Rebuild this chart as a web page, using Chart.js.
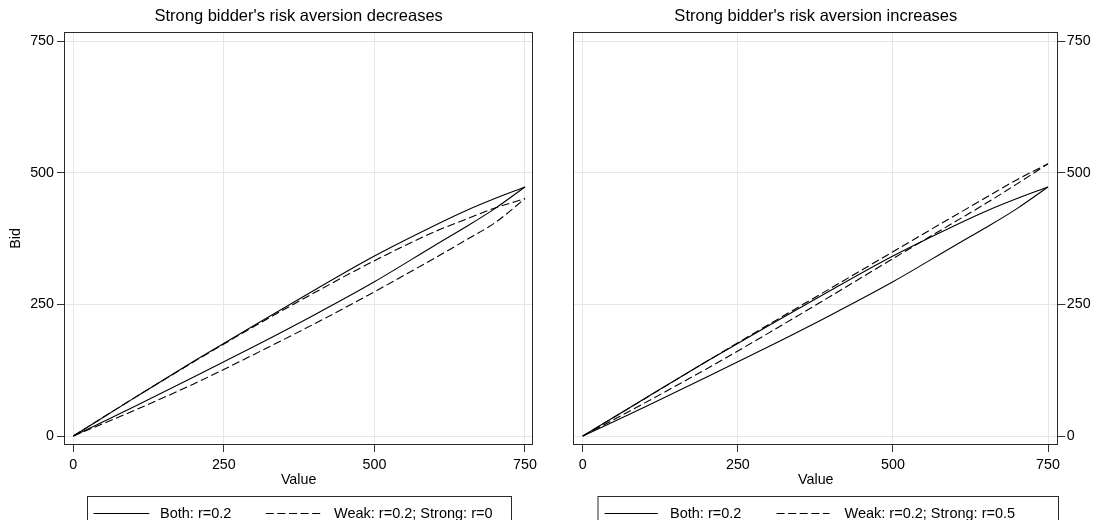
<!DOCTYPE html>
<html><head><meta charset="utf-8">
<script src="https://cdn.jsdelivr.net/npm/chart.js@4.4.1/dist/chart.umd.min.js"></script>
<style>
html,body{margin:0;padding:0;background:#fff;}
#wrap{position:relative;width:1094px;height:520px;overflow:hidden;font-family:"Liberation Sans",Arial,sans-serif;background:#fff;}
.cv{position:absolute;top:0;width:547px;height:520px;}
.lt{position:absolute;font-size:14.5px;line-height:1;color:#000;white-space:nowrap;font-family:"Liberation Sans",Arial,sans-serif;}
#ov{position:absolute;left:0;top:0;pointer-events:none;}
</style></head>
<body>
<div id="wrap">
  <div class="cv" style="left:0"><canvas id="c1" width="547" height="520"></canvas></div>
  <div class="cv" style="left:547px"><canvas id="c2" width="547" height="520"></canvas></div>
  <svg id="ov" width="1094" height="520"></svg>
</div>
<script>
// ---- data ----
const values = [0, 100, 200, 300, 400, 500, 600, 650, 700, 750];
const bothHigh = [0, 71.5, 142, 210, 277, 342, 400, 427, 451, 473];
const bothLow  = [0, 55, 112, 170, 230, 293, 362, 396, 432, 473];
const decHigh  = [0, 71.5, 141, 208, 272, 333, 388, 411, 433, 451];
const decLow   = [0, 48, 99, 155, 213, 274, 338, 371, 405, 451];
const incHigh  = [0, 71, 142, 212, 281, 350, 419, 453, 487, 517];
const incLow   = [0, 63, 128, 196, 266, 337, 407, 442, 479, 517];
const xTicks = [0, 250, 500, 750];
const yTicks = [0, 250, 500, 750];
const titles = ["Strong bidder's risk aversion decreases", "Strong bidder's risk aversion increases"];
const labelBoth = "Both: r=0.2";
const labelDec = "Weak: r=0.2; Strong: r=0";
const labelInc = "Weak: r=0.2; Strong: r=0.5";

const F = '"Liberation Sans", Arial, sans-serif';
Chart.defaults.font.family = F;
Chart.defaults.color = '#000';

const pts = (ys) => values.map((x, i) => ({x: x, y: ys[i]}));
const DASH = [8, 3.6];

function ds(label, ys, dashed) {
  return {label: label, data: pts(ys), borderColor: '#000', borderWidth: 1.1,
    borderDash: dashed ? DASH : [], pointRadius: 0, fill: false,
    cubicInterpolationMode: 'monotone'};
}

const framePlugin = {
  id: 'frame',
  afterDatasetsDraw(chart) {
    const a = chart.chartArea, ctx = chart.ctx;
    ctx.save();
    ctx.strokeStyle = '#2a2a2a';
    ctx.lineWidth = 1;
    ctx.setLineDash([]);
    ctx.strokeRect(Math.round(a.left) + 0.5, Math.round(a.top) + 0.5,
      Math.round(a.right - a.left) - 1, Math.round(a.bottom - a.top) - 1);
    ctx.restore();
  }
};

function gridOpts() {
  return {color: '#e6e6e6', lineWidth: 1, drawTicks: true, tickLength: 7, tickColor: '#333', tickWidth: 1};
}

function makeChart(id, title, datasets, side) {
  const left = side === 'left';
  return new Chart(document.getElementById(id), {
    type: 'scatter',
    data: {datasets: datasets},
    plugins: [framePlugin],
    options: {
      responsive: false, animation: false, showLine: true,
      layout: {padding: left ? {left: 0, right: 13.7, top: 0, bottom: 30} : {left: 26.3, right: 0, top: 0, bottom: 30}},
      plugins: {
        legend: {display: false},
        tooltip: {enabled: false},
        title: {display: true, text: title, fullSize: false, color: '#000',
          font: {size: 16.5, weight: 'normal', family: F}, padding: {top: 7, bottom: 4.9}}
      },
      scales: {
        x: {type: 'linear', position: 'bottom', min: left ? -15.4 : -15.3, max: left ? 763.8 : 766.6,
          afterBuildTicks: s => { s.ticks = xTicks.map(v => ({value: v})); },
          afterFit: s => { s.height = 45; s.paddingLeft = 0; s.paddingRight = 0; },
          grid: gridOpts(), border: {display: false},
          ticks: {color: '#000', font: {size: 14.3, family: F}, padding: 4.6, maxRotation: 0, autoSkip: false},
          title: {display: true, text: 'Value', color: '#000', font: {size: 14.3, family: F}, padding: {top: 0, bottom: 1.5}}
        },
        y: {type: 'linear', position: side, min: -17, max: 768,
          afterBuildTicks: s => { s.ticks = yTicks.map(v => ({value: v})); },
          afterFit: s => { s.width = left ? 64 : 35.7; s.paddingTop = 0; s.paddingBottom = 0; },
          grid: gridOpts(), border: {display: false},
          ticks: {color: '#000', font: {size: 14.3, family: F}, padding: left ? 3 : 1.5, autoSkip: false},
          title: {display: left, text: 'Bid', color: '#000', font: {size: 14.3, family: F}, padding: {top: 7.2, bottom: 0}}
        }
      }
    }
  });
}

makeChart('c1', titles[0], [ds(labelBoth, bothHigh, false), ds(labelBoth, bothLow, false), ds(labelDec, decHigh, true), ds(labelDec, decLow, true)], 'left');
makeChart('c2', titles[1], [ds(labelBoth, bothHigh, false), ds(labelBoth, bothLow, false), ds(labelInc, incHigh, true), ds(labelInc, incLow, true)], 'right');

// ---- legends (HTML/SVG) ----
const svgNS = 'http://www.w3.org/2000/svg';
const ov = document.getElementById('ov');
function svgEl(tag, attrs) { const e = document.createElementNS(svgNS, tag); for (const k in attrs) e.setAttribute(k, attrs[k]); ov.appendChild(e); return e; }
function legend(box, items) {
  svgEl('rect', {x: box.x + 0.5, y: box.y + 0.5, width: box.w, height: 60, fill: 'none', stroke: '#2a2a2a', 'stroke-width': 1});
  items.forEach(it => {
    const a = {x1: it.x1, x2: it.x2, y1: 513.5, y2: 513.5, stroke: '#000', 'stroke-width': 1.1};
    if (it.dashed) a['stroke-dasharray'] = DASH.join(' ');
    svgEl('line', a);
    const t = document.createElement('div');
    t.className = 'lt'; t.textContent = it.text;
    t.style.left = it.tx + 'px'; t.style.top = '506px';
    document.getElementById('wrap').appendChild(t);
  });
}
legend({x: 87, y: 496, w: 424}, [
  {x1: 93.5, x2: 149.3, tx: 160, text: labelBoth, dashed: false},
  {x1: 265.8, x2: 320.2, tx: 334, text: labelDec, dashed: true}
]);
legend({x: 597.5, y: 496, w: 460.5}, [
  {x1: 604.6, x2: 657.9, tx: 670, text: labelBoth, dashed: false},
  {x1: 776.5, x2: 829.5, tx: 844.5, text: labelInc, dashed: true}
]);
</script>
</body></html>
